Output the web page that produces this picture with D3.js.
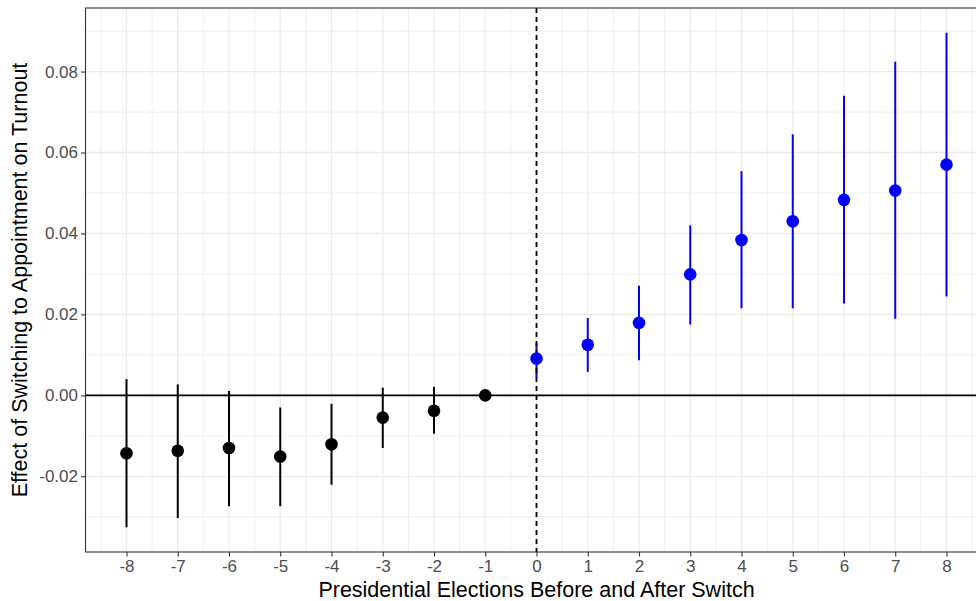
<!DOCTYPE html>
<html>
<head>
<meta charset="utf-8">
<script src="https://cdn.jsdelivr.net/npm/d3@7"></script>
<style>
  html, body { margin: 0; padding: 0; background: #fff; }
  svg { display: block; font-family: "Liberation Sans", Arial, sans-serif; }
</style>
</head>
<body>
<svg id="chart" width="976" height="601"></svg>
<script>
// ---- data ----
const periods = [-8, -7, -6, -5, -4, -3, -2, -1, 0, 1, 2, 3, 4, 5, 6, 7, 8];
const estimates = [-0.0143, -0.0137, -0.0130, -0.0151, -0.0121, -0.0055, -0.0038, 0.0000,
                   0.0091, 0.0125, 0.0179, 0.0299, 0.0384, 0.0430, 0.0483, 0.0506, 0.0570];
const lowerCI = [-0.0326, -0.0303, -0.0274, -0.0274, -0.0221, -0.0130, -0.0095, 0.0000,
                 0.0043, 0.0058, 0.0087, 0.0175, 0.0215, 0.0215, 0.0227, 0.0189, 0.0244];
const upperCI = [0.0040, 0.0027, 0.0011, -0.0030, -0.0021, 0.0019, 0.0021, 0.0000,
                 0.0129, 0.0191, 0.0271, 0.0420, 0.0554, 0.0645, 0.0740, 0.0824, 0.0896];
const yTicks = [-0.02, 0.00, 0.02, 0.04, 0.06, 0.08];
const yTickLabels = ["-0.02", "0.00", "0.02", "0.04", "0.06", "0.08"];
const yMinorTicks = [-0.03, -0.01, 0.01, 0.03, 0.05, 0.07, 0.09];
const xTicks = periods;
const xTickLabels = ["-8", "-7", "-6", "-5", "-4", "-3", "-2", "-1", "0", "1", "2", "3", "4", "5", "6", "7", "8"];
const xMinorTicks = [-8.5, -7.5, -6.5, -5.5, -4.5, -3.5, -2.5, -1.5, -0.5, 0.5, 1.5, 2.5, 3.5, 4.5, 5.5, 6.5, 7.5, 8.5];
const xTitle = "Presidential Elections Before and After Switch";
const yTitle = "Effect of Switching to Appointment on Turnout";

const data = periods.map((p, i) => ({ x: p, y: estimates[i], lo: lowerCI[i], hi: upperCI[i] }));

// ---- layout ----
const panel = { left: 85.5, right: 987.5, top: 8, bottom: 552 };
const svg = d3.select("#chart");

const x = d3.scaleLinear().domain([-8.8, 8.8]).range([panel.left, panel.right]);
const yLo = d3.min(lowerCI), yHi = d3.max(upperCI);
const pad = (yHi - yLo) * 0.05;
const y = d3.scaleLinear().domain([yLo - pad, yHi + pad]).range([panel.bottom, panel.top]);

const g = svg.append("g");

// grid minor
g.append("g").selectAll("line").data(yMinorTicks).join("line")
  .attr("x1", panel.left).attr("x2", panel.right)
  .attr("y1", d => y(d)).attr("y2", d => y(d))
  .attr("stroke", "#EBEBEB").attr("stroke-width", 0.8);
g.append("g").selectAll("line").data(xMinorTicks).join("line")
  .attr("y1", panel.top).attr("y2", panel.bottom)
  .attr("x1", d => x(d)).attr("x2", d => x(d))
  .attr("stroke", "#EBEBEB").attr("stroke-width", 0.8);
// grid major
g.append("g").selectAll("line").data(yTicks).join("line")
  .attr("x1", panel.left).attr("x2", panel.right)
  .attr("y1", d => y(d)).attr("y2", d => y(d))
  .attr("stroke", "#EBEBEB").attr("stroke-width", 1.3);
g.append("g").selectAll("line").data(xTicks).join("line")
  .attr("y1", panel.top).attr("y2", panel.bottom)
  .attr("x1", d => x(d)).attr("x2", d => x(d))
  .attr("stroke", "#EBEBEB").attr("stroke-width", 1.3);

// zero line
g.append("line")
  .attr("x1", panel.left).attr("x2", panel.right)
  .attr("y1", y(0)).attr("y2", y(0))
  .attr("stroke", "#000").attr("stroke-width", 1.6);

const color = d => d.x >= 0 ? "#0000FF" : "#000000";

// error bars
g.append("g").selectAll("line").data(data.filter(d => d.hi !== d.lo)).join("line")
  .attr("x1", d => x(d.x)).attr("x2", d => x(d.x))
  .attr("y1", d => y(d.lo)).attr("y2", d => y(d.hi))
  .attr("stroke", color).attr("stroke-width", 2);

// vertical dashed line
g.append("line")
  .attr("x1", x(0)).attr("x2", x(0))
  .attr("y1", panel.top).attr("y2", panel.bottom)
  .attr("stroke", "#000").attr("stroke-width", 1.8)
  .attr("stroke-dasharray", "5,4");

// points
g.append("g").selectAll("circle").data(data).join("circle")
  .attr("cx", d => x(d.x)).attr("cy", d => y(d.y)).attr("r", 6.3)
  .attr("fill", color);

// panel border
g.append("rect")
  .attr("x", panel.left).attr("y", panel.top)
  .attr("width", panel.right - panel.left).attr("height", panel.bottom - panel.top)
  .attr("fill", "none").attr("stroke", "#333333").attr("stroke-width", 1.1);

// axes
const xAxis = d3.axisBottom(x).tickValues(xTicks).tickFormat((d, i) => xTickLabels[i])
  .tickSizeInner(4.5).tickSizeOuter(0).tickPadding(3);
const gx = svg.append("g").attr("transform", `translate(0,${panel.bottom})`).call(xAxis);
gx.select(".domain").remove();
gx.selectAll(".tick line").attr("stroke", "#333333").attr("stroke-width", 1.1);
gx.selectAll(".tick text").attr("fill", "#4D4D4D").attr("font-size", "17px")
  .attr("font-family", "Liberation Sans, Arial, sans-serif");

const yAxis = d3.axisLeft(y).tickValues(yTicks).tickFormat((d, i) => yTickLabels[i])
  .tickSizeInner(4.5).tickSizeOuter(0).tickPadding(3);
const gy = svg.append("g").attr("transform", `translate(${panel.left},0)`).call(yAxis);
gy.select(".domain").remove();
gy.selectAll(".tick line").attr("stroke", "#333333").attr("stroke-width", 1.1);
gy.selectAll(".tick text").attr("fill", "#4D4D4D").attr("font-size", "17px")
  .attr("font-family", "Liberation Sans, Arial, sans-serif");

// titles
const cx = (panel.left + panel.right) / 2;
svg.append("text").attr("x", cx).attr("y", 597)
  .attr("text-anchor", "middle").attr("font-size", "21.5px").attr("fill", "#000")
  .text(xTitle);
svg.append("text")
  .attr("transform", `translate(27,${(panel.top + panel.bottom) / 2}) rotate(-90)`)
  .attr("text-anchor", "middle").attr("font-size", "21.5px").attr("fill", "#000")
  .text(yTitle);
</script>
</body>
</html>
